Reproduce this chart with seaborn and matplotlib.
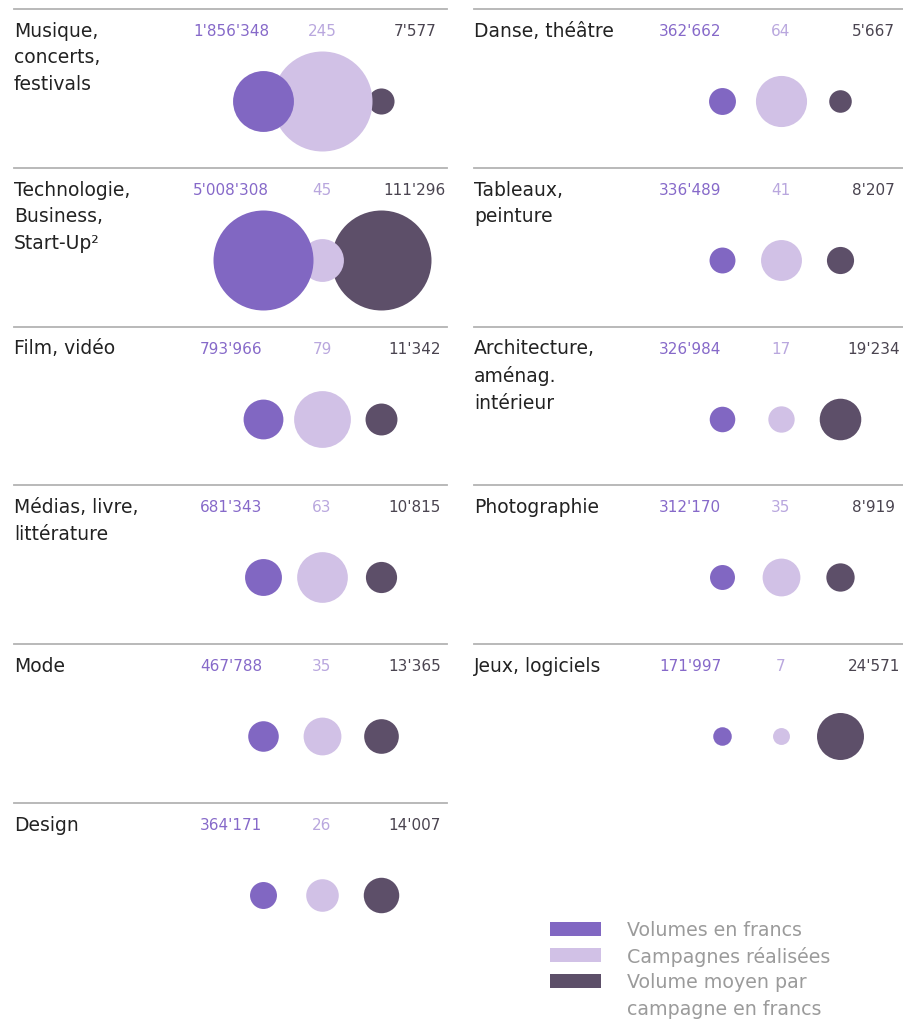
import numpy as np
import pandas as pd
import seaborn as sns
import matplotlib.pyplot as plt
from matplotlib import transforms
from matplotlib.patches import Rectangle

sns.set_style("white")
plt.rcParams["font.family"] = ["DejaVu Sans"]

# data
categories = ["Musique,\nconcerts,\nfestivals", "Technologie,\nBusiness,\nStart-Up²",
              "Film, vidéo", "Médias, livre,\nlittérature", "Mode", "Design",
              "Danse, théâtre", "Tableaux,\npeinture", "Architecture,\naménag.\nintérieur",
              "Photographie", "Jeux, logiciels"]
volumes = [1856348, 5008308, 793966, 681343, 467788, 364171,
           362662, 336489, 326984, 312170, 171997]
campagnes = [245, 45, 79, 63, 35, 26, 64, 41, 17, 35, 7]
moyen = [7577, 111296, 11342, 10815, 13365, 14007,
         5667, 8207, 19234, 8919, 24571]
column = [0, 0, 0, 0, 0, 0, 1, 1, 1, 1, 1]
row = [0, 1, 2, 3, 4, 5, 0, 1, 2, 3, 4]

metrics = ["Volumes en francs", "Campagnes réalisées", "Volume moyen par\ncampagne en francs"]

df = pd.DataFrame({"cat": categories, "col": column, "row": row,
                   metrics[0]: volumes, metrics[1]: campagnes, metrics[2]: moyen})

circle_colors = ["#8167c2", "#d1c1e6", "#5d4f69"]
value_colors = ["#8669c9", "#b9a7de", "#4a4450"]
label_color = "#222222"
line_color = "#b3b3b3"

W, H = 904, 1020
fig = plt.figure(figsize=(W / 100, H / 100), dpi=100)

col_left = [14, 474]
col_right = [447, 904]
col_center0 = [263, 722]
step_px = 59
top0 = 10
panel_h = 158.8
circle_from_top = 92
label_top = 11.7
value_base = 26
smax = (2 * 50 * 0.72) ** 2  # area (pt^2) of the largest circle, radius 50 px
value_x = [-0.54, 1, 2.57]
draw_order = [2, 1, 0]

for _, r in df.iterrows():
    c = r["col"]
    top = top0 + r["row"] * panel_h
    left, right = col_left[c], col_right[c]
    ax = fig.add_axes([left / W, 1 - (top + panel_h) / H, (right - left) / W, panel_h / H])
    ax.patch.set_visible(False)
    ax.set_xlim((left - col_center0[c]) / step_px, (right - col_center0[c]) / step_px)
    yc = 1 - circle_from_top / panel_h
    ax.set_ylim(-yc, 1 - yc)
    for side in ["left", "right", "bottom"]:
        ax.spines[side].set_visible(False)
    ax.spines["top"].set_color(line_color)
    ax.spines["top"].set_linewidth(1.3)
    ax.set_xticks([])
    ax.set_yticks([])

    for i in draw_order:
        m = metrics[i]
        sns.scatterplot(x=[i], y=[0], size=[r[m]], sizes=(0, smax),
                        size_norm=(0, df[m].max()), color=circle_colors[i],
                        linewidth=0, legend=False, ax=ax, clip_on=False, zorder=3)

    ax.text(0, 1 - label_top / panel_h, r["cat"], transform=ax.transAxes,
            ha="left", va="top", fontsize=13.5, color=label_color, linespacing=1.5)
    blend = transforms.blended_transform_factory(ax.transData, ax.transAxes)
    for i, m in enumerate(metrics):
        ax.text(value_x[i], 1 - value_base / panel_h, f"{int(r[m]):,}".replace(",", "'"),
                transform=blend, ha="center", va="baseline", fontsize=11,
                color=value_colors[i])
    ax.set_xlabel("")
    ax.set_ylabel("")

# legend
lax = fig.add_axes([0, 0, 1, 1])
lax.set_xlim(0, W)
lax.set_ylim(H, 0)
lax.axis("off")
lax.patch.set_visible(False)
for i, m in enumerate(metrics):
    lax.add_patch(Rectangle((550, 923 + 26 * i), 51, 14, color=circle_colors[i], lw=0))
    lax.text(627, 921.5 + 26 * i, m, ha="left", va="top", fontsize=13.7,
             color="#9b9b9b", linespacing=1.5)

fig.savefig("out.png", dpi=100)
